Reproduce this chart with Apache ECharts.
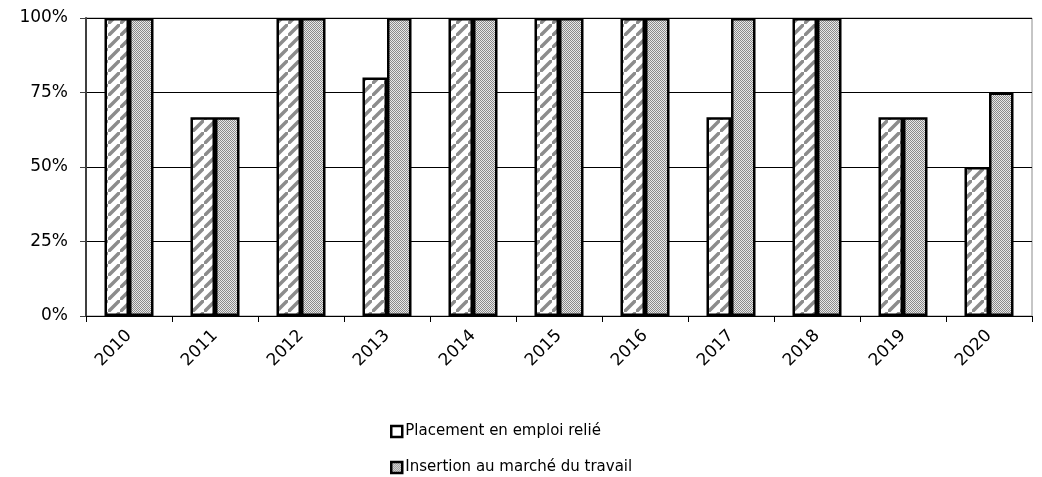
<!DOCTYPE html>
<html><head><meta charset="utf-8">
<script src="https://cdn.jsdelivr.net/npm/echarts@6/dist/echarts.min.js"></script>
<style>html,body{margin:0;padding:0;background:#fff}#c{width:1042px;height:477px}</style>
</head><body><div id="c"></div>
<script>
const years = ['2010','2011','2012','2013','2014','2015','2016','2017','2018','2019','2020'];
const placement = [100, 66.7, 100, 80, 100, 100, 100, 66.7, 100, 66.7, 50];
const insertion = [100, 66.7, 100, 100, 100, 100, 100, 100, 100, 66.7, 75];
const seriesNames = ['Placement en emploi relié', 'Insertion au marché du travail'];
const yTicks = [0, 25, 50, 75, 100];

function stripes() {
  const s = 12;
  const c = document.createElement('canvas'); c.width = s; c.height = s;
  const g = c.getContext('2d');
  g.fillStyle = '#fff'; g.fillRect(0,0,s,s);
  g.strokeStyle = '#8c8c8c'; g.lineWidth = 3.5;
  g.beginPath();
  g.moveTo(-3,s+3); g.lineTo(s+3,-3);
  g.moveTo(-s-3,3); g.lineTo(3,-s-3);
  g.moveTo(s-3,2*s+3); g.lineTo(2*s+3,s-3);
  g.stroke();
  return c;
}
function checks() {
  const c = document.createElement('canvas'); c.width = 4; c.height = 4;
  const g = c.getContext('2d');
  g.fillStyle = '#e8e8e8'; g.fillRect(0,0,4,4);
  g.fillStyle = '#8a8a8a';
  for (let y=0;y<4;y++) for (let x=0;x<4;x++) if ((x+y)%2===0) g.fillRect(x,y,1,1);
  return c;
}
const p1 = {image: stripes(), repeat: 'repeat'};
const p2 = {image: checks(), repeat: 'repeat'};
const font = '"DejaVu Sans", "Open Sans", sans-serif';
const legendText = {fontSize: 15, color: '#000', fontFamily: font};

const chart = echarts.init(document.getElementById('c'), null, {renderer: 'canvas'});
chart.setOption({
  animation: false,
  textStyle: {fontFamily: font},
  grid: {left: 86, right: 10, top: 18, bottom: 161, show: true, borderColor: '#8c8c8c', borderWidth: 1, backgroundColor: 'transparent'},
  legend: [
    {left: 390, top: 424, itemWidth: 11, itemHeight: 11, icon: 'rect', itemGap: 0, padding: 0,
     textStyle: Object.assign({padding: [0,0,0,-2]}, legendText), selectedMode: false,
     data: [{name: seriesNames[0], itemStyle: {color: '#fff', borderColor: '#000', borderWidth: 2.5}}]},
    {left: 390, top: 460, itemWidth: 11, itemHeight: 11, icon: 'rect', itemGap: 0, padding: 0,
     textStyle: Object.assign({padding: [0,0,0,-2]}, legendText), selectedMode: false,
     data: [{name: seriesNames[1], itemStyle: {color: p2, borderColor: '#000', borderWidth: 2.5}}]}
  ],
  xAxis: {
    type: 'category', data: years,
    axisLine: {lineStyle: {color: '#000', width: 1}},
    axisTick: {show: true, alignWithLabel: false, length: 6, lineStyle: {color: '#000'}},
    axisLabel: {rotate: 45, fontSize: 17, color: '#000', margin: 17, fontFamily: font}
  },
  yAxis: {
    type: 'value', min: 0, max: 100, interval: 25,
    axisLine: {show: true, lineStyle: {color: '#404040', width: 2}},
    axisTick: {show: true, length: 6, lineStyle: {color: '#404040'}},
    axisLabel: {formatter: v => yTicks.includes(v) ? v + '%' : '', fontSize: 17, color: '#000', margin: 18, fontFamily: font},
    splitLine: {lineStyle: {color: '#000', width: 1}}
  },
  series: [
    {name: seriesNames[0], type: 'bar', data: placement, barGap: '0%', barCategoryGap: '43%',
     itemStyle: {color: p1, borderColor: '#000', borderWidth: 2.5}},
    {name: seriesNames[1], type: 'bar', data: insertion,
     itemStyle: {color: p2, borderColor: '#000', borderWidth: 2.5}}
  ]
});
</script></body></html>
